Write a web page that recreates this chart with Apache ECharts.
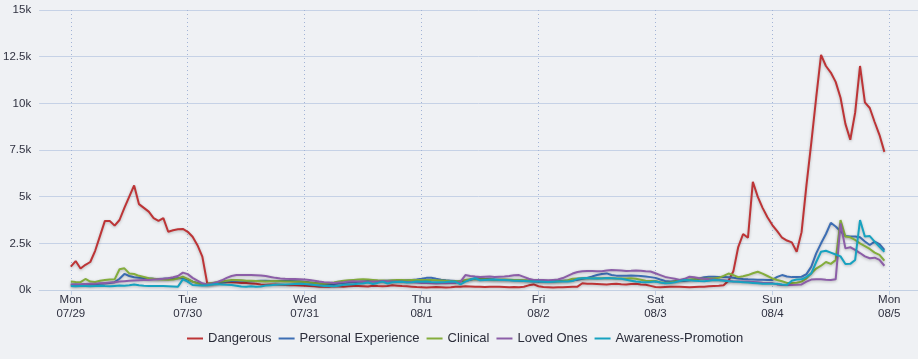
<!DOCTYPE html>
<html><head><meta charset="utf-8">
<script src="https://cdn.jsdelivr.net/npm/echarts@6/dist/echarts.min.js"></script>
<style>html,body{margin:0;padding:0;background:#eff1f4}#c{width:918px;height:359px}</style>
</head><body><div id="c"></div><script>
// Hourly values starting Mon 07/29 00:00 (168 points = 7 days)
const seriesNames = ['Dangerous', 'Personal Experience', 'Clinical', 'Loved Ones', 'Awareness-Promotion'];
const seriesColors = ['#bd3436', '#3d6eb4', '#84ad3c', '#8c5ea8', '#17a2c0'];
const dayNames = ['Sun', 'Mon', 'Tue', 'Wed', 'Thu', 'Fri', 'Sat'];

const dangerous = [
  1250,1550,1150,1350,1500,2100,2900,3700,3700,3450,3750,4400,5000,5600,4600,4400,4200,3850,3700,3850,3120,3200,3250,3270,
  3120,2850,2400,1790,360,330,380,400,420,410,400,380,370,350,330,300,280,300,290,280,270,260,250,240,
  230,220,200,180,170,180,200,190,180,200,220,210,200,190,230,210,200,220,250,230,210,200,180,160,
  150,140,150,160,150,140,150,170,180,200,190,180,170,160,170,180,170,160,150,160,150,170,250,300,
  200,160,150,140,150,150,160,170,180,360,340,330,320,310,300,320,330,310,300,320,330,300,280,220,
  160,150,160,170,180,170,160,150,160,170,180,200,220,230,250,500,1000,2300,3000,2800,5800,5000,4400,3900,
  3480,3150,2800,2650,2550,2050,3100,5600,7900,10300,12600,12000,11650,11150,10300,8900,8050,9500,12000,10050,9750,9000,8300,7400
];
const personalExperience = [
  280,300,270,320,300,310,330,350,380,420,600,860,750,680,650,640,620,600,590,600,610,620,630,640,
  560,450,380,320,300,330,380,420,450,480,500,490,480,470,480,490,500,480,470,480,490,480,470,460,
  440,400,380,350,320,300,320,350,380,400,420,440,460,480,470,460,480,500,490,480,500,520,540,560,
  600,650,660,600,550,520,500,480,470,500,550,620,630,600,580,560,550,540,530,520,510,500,480,470,
  460,450,450,470,480,490,500,520,550,600,650,720,800,860,890,800,770,760,770,780,770,750,720,690,
  650,560,480,450,470,490,500,520,560,620,680,710,710,700,690,680,660,620,590,570,560,550,550,540,
  540,700,800,720,690,690,710,850,1250,1960,2500,3000,3600,3400,3150,2900,2860,2860,2820,2600,2410,2590,2460,2150
];
const clinical = [
  450,430,420,590,450,430,500,540,560,570,1110,1160,890,860,760,700,630,600,570,560,550,560,620,710,
  600,450,360,320,330,380,420,450,500,530,540,520,500,490,480,470,460,470,480,470,460,450,440,450,
  430,400,370,350,340,360,400,450,500,520,540,560,570,560,540,520,510,500,520,540,530,520,530,540,
  540,540,530,520,510,500,480,470,480,530,580,590,580,570,560,540,550,560,550,540,530,520,510,500,
  490,480,470,460,470,480,520,600,620,630,640,630,620,630,640,630,620,610,620,630,600,550,500,480,
  480,420,370,400,460,520,540,560,580,600,600,610,620,650,760,880,800,690,740,800,900,980,880,750,
  620,540,470,380,370,390,450,620,900,1150,1300,1500,1400,1600,3750,2860,2820,2680,2500,2350,2200,2000,1880,1570
];
const lovedOnes = [
  300,300,310,320,330,340,360,380,400,420,450,470,490,510,520,530,540,560,580,600,630,680,750,930,
  850,650,500,360,300,350,420,520,650,750,800,800,810,800,790,780,750,700,650,620,600,590,590,580,
  560,540,500,450,420,400,380,400,420,450,470,460,450,440,450,460,480,470,460,450,440,430,420,400,
  380,370,360,350,360,360,370,380,450,800,750,720,700,710,720,700,710,720,750,790,800,700,600,540,
  540,530,520,540,560,640,760,880,960,1000,1020,1020,1000,1010,1050,1070,1060,1040,1020,1030,1050,1030,1000,990,
  900,800,700,650,600,540,600,710,680,630,600,580,560,540,520,500,460,450,450,450,430,410,390,380,
  370,300,270,270,270,280,300,450,560,570,570,550,540,570,3570,2230,2290,2150,1980,1800,1700,1730,1610,1300
];
const awarenessPromotion = [
  210,200,220,210,200,220,230,210,200,220,240,230,250,290,250,230,220,210,220,210,200,190,180,570,
  450,270,250,240,260,300,320,300,280,270,230,190,180,200,180,190,240,260,280,290,300,310,320,330,
  320,300,270,240,220,210,200,230,280,300,310,330,350,400,320,380,450,350,420,430,440,400,420,450,
  440,450,430,420,420,430,450,440,300,450,560,630,520,540,550,560,540,530,520,500,490,480,470,460,
  450,440,430,440,450,450,460,480,600,630,640,620,630,620,640,630,610,600,550,500,450,430,420,430,
  450,400,360,380,420,480,540,520,500,480,470,500,540,520,500,470,450,440,420,400,380,360,340,330,
  330,340,300,270,500,560,570,700,890,1500,2050,2100,2000,1900,1800,1390,1400,1610,3750,2860,2890,2590,2320,2050
];
const seriesValues = [dangerous, personalExperience, clinical, lovedOnes, awarenessPromotion];

const START = new Date(2019, 6, 29, 0, 0, 0).getTime();
const HOUR = 3600 * 1000;
function toPairs(arr) { return arr.map((v, i) => [START + i * HOUR, v]); }
function pad2(n) { return (n < 10 ? '0' : '') + n; }

const chart = echarts.init(document.getElementById('c'), null, { renderer: 'canvas' });
chart.setOption({
  backgroundColor: '#eff1f4',
  animation: false,
  textStyle: { fontFamily: 'Liberation Sans' },
  grid: { left: 38, right: 0, top: 10, bottom: 69, containLabel: false },
  xAxis: {
    type: 'time',
    min: START - 6.5 * HOUR,
    max: START + 173.9 * HOUR,
    minInterval: 24 * HOUR,
    maxInterval: 24 * HOUR,
    axisLine: { show: true, lineStyle: { color: '#c3d0e3', width: 1 } },
    axisTick: { show: true, length: 5, lineStyle: { color: '#c3d0e3' } },
    axisLabel: {
      showMinLabel: false, showMaxLabel: false,
      color: '#2f3140', fontSize: 11.5, lineHeight: 14, margin: 3,
      formatter: function (v) {
        const d = new Date(v);
        return dayNames[d.getDay()] + '\n' + pad2(d.getMonth() + 1) + '/' + d.getDate();
      }
    },
    splitLine: { show: true, showMinLine: false, showMaxLine: false, lineStyle: { color: '#a3b4d6', type: [1, 3], width: 1 } }
  },
  yAxis: {
    type: 'value', min: 0, max: 15000, interval: 2500,
    axisLine: { show: false }, axisTick: { show: false },
    axisLabel: { color: '#2f3140', fontSize: 11.5, margin: 8, formatter: v => (v / 1000) + 'k' },
    splitLine: { lineStyle: { color: '#c6d2e6', width: 1 } }
  },
  legend: {
    bottom: 14, left: 187, padding: 0,
    icon: 'rect', itemWidth: 16, itemHeight: 2, itemGap: 7,
    textStyle: { color: '#2b2d3a', fontSize: 13, fontFamily: 'Liberation Sans' },
    data: seriesNames
  },
  series: seriesNames.map((name, i) => ({
    name: name, type: 'line', showSymbol: false, symbol: 'none',
    color: seriesColors[i],
    lineStyle: { width: 2, color: seriesColors[i], shadowColor: 'rgba(0,0,0,0.25)', shadowBlur: 3, shadowOffsetY: 1 },
    data: toPairs(seriesValues[i])
  }))
});
</script></body></html>
